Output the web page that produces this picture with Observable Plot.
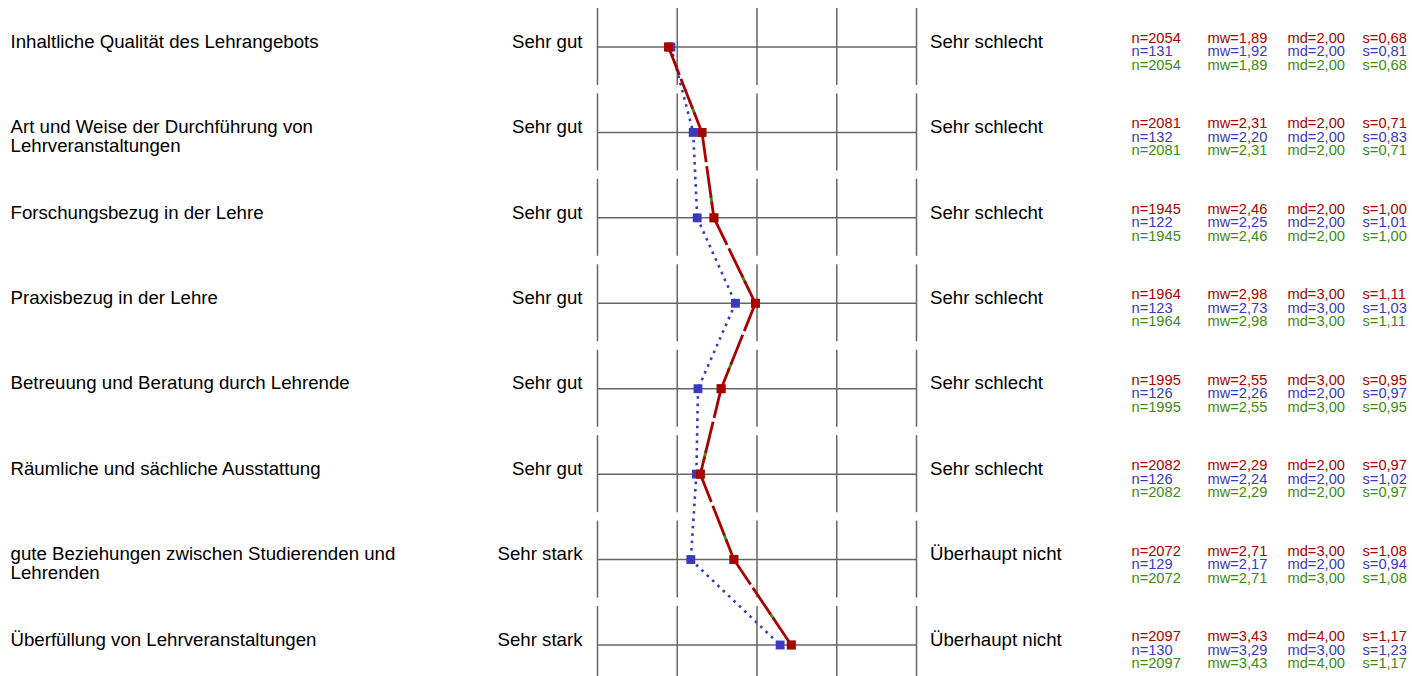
<!DOCTYPE html>
<html>
<head>
<meta charset="utf-8">
<script src="https://cdn.jsdelivr.net/npm/d3@7"></script>
<script src="https://cdn.jsdelivr.net/npm/@observablehq/plot@0.6"></script>
<style>
  html, body { margin: 0; padding: 0; background: #fff; }
  #chart svg { display: block; }
</style>
</head>
<body>
<div id="chart"></div>
<script>
// ---- data ----
const items = [
  "Inhaltliche Qualität des Lehrangebots",
  "Art und Weise der Durchführung von\nLehrveranstaltungen",
  "Forschungsbezug in der Lehre",
  "Praxisbezug in der Lehre",
  "Betreuung und Beratung durch Lehrende",
  "Räumliche und sächliche Ausstattung",
  "gute Beziehungen zwischen Studierenden und\nLehrenden",
  "Überfüllung von Lehrveranstaltungen"
];
const leftPoles  = ["Sehr gut","Sehr gut","Sehr gut","Sehr gut","Sehr gut","Sehr gut","Sehr stark","Sehr stark"];
const rightPoles = ["Sehr schlecht","Sehr schlecht","Sehr schlecht","Sehr schlecht","Sehr schlecht","Sehr schlecht","Überhaupt nicht","Überhaupt nicht"];
const scaleTicks = [1, 2, 3, 4, 5];

const redN   = [2054, 2081, 1945, 1964, 1995, 2082, 2072, 2097];
const redMw  = [1.89, 2.31, 2.46, 2.98, 2.55, 2.29, 2.71, 3.43];
const redMd  = [2.00, 2.00, 2.00, 3.00, 3.00, 2.00, 3.00, 4.00];
const redS   = [0.68, 0.71, 1.00, 1.11, 0.95, 0.97, 1.08, 1.17];

const blueN  = [131, 132, 122, 123, 126, 126, 129, 130];
const blueMw = [1.92, 2.20, 2.25, 2.73, 2.26, 2.24, 2.17, 3.29];
const blueMd = [2.00, 2.00, 2.00, 3.00, 2.00, 2.00, 2.00, 3.00];
const blueS  = [0.81, 0.83, 1.01, 1.03, 0.97, 1.02, 0.94, 1.23];

const greenN  = [2054, 2081, 1945, 1964, 1995, 2082, 2072, 2097];
const greenMw = [1.89, 2.31, 2.46, 2.98, 2.55, 2.29, 2.71, 3.43];
const greenMd = [2.00, 2.00, 2.00, 3.00, 3.00, 2.00, 3.00, 4.00];
const greenS  = [0.68, 0.71, 1.00, 1.11, 0.95, 0.97, 1.08, 1.17];

// ---- styling / layout ----
const RED = "#aa0000", BLUE = "#3a3ac0", GREEN = "#3c8c14", GRID = "#666";
const FONT = "'Liberation Sans', Arial, Helvetica, sans-serif";
const rowIdx = d3.range(items.length);

const series = [
  {name: "green", color: GREEN, n: greenN, mw: greenMw, md: greenMd, s: greenS, dy: 23},
  {name: "blue",  color: BLUE,  n: blueN,  mw: blueMw,  md: blueMd,  s: blueS,  dy: 9.5},
  {name: "red",   color: RED,   n: redN,   mw: redMw,   md: redMd,   s: redS,   dy: -4}
];

const dec = v => d3.format(".2f")(v).replace(".", ",");
const cols = [
  {dx: 1131, f: (S, i) => "n=" + S.n[i]},
  {dx: 1207, f: (S, i) => "mw=" + dec(S.mw[i])},
  {dx: 1287, f: (S, i) => "md=" + dec(S.md[i])},
  {dx: 1362, f: (S, i) => "s=" + dec(S.s[i])}
];

const grid = [];
for (const r of rowIdx) for (const t of scaleTicks) grid.push({row: r, v: t});

const segs = S => d3.range(items.length - 1).map(i => ({x1: S.mw[i], x2: S.mw[i + 1], y1: i, y2: i + 1}));

const labelOpts = {lineAnchor: "top", dy: -12.5, lineHeight: 1.0, fontSize: 18.67, fill: "#000"};

const marks = [
  // grid
  Plot.tickX(grid, {x: "v", y: "row", stroke: GRID, strokeWidth: 1.5}),
  Plot.ruleY(rowIdx, {y: d => d, x1: 1, x2: 5, stroke: GRID, strokeWidth: 1.5}),
  // item labels
  Plot.text(rowIdx, {y: d => d, text: d => items[d], frameAnchor: "left", dx: 10, textAnchor: "start", ...labelOpts}),
  Plot.text(rowIdx, {y: d => d, x: () => 1, text: d => leftPoles[d], textAnchor: "end", ...labelOpts, dx: -15}),
  Plot.text(rowIdx, {y: d => d, x: () => 5, text: d => rightPoles[d], textAnchor: "start", ...labelOpts, dx: 13.5})
];

// profile lines
const G = series[0], B = series[1], R = series[2];
marks.push(
  Plot.link(segs(G), {x1: "x1", x2: "x2", y1: "y1", y2: "y2", stroke: GREEN, strokeWidth: 2.8, strokeDasharray: "0,64,9,500"}),
  Plot.dot(rowIdx, {x: i => G.mw[i], y: d => d, symbol: "square", r: 5, fill: GREEN}),
  Plot.link(segs(B), {x1: "x1", x2: "x2", y1: "y1", y2: "y2", stroke: BLUE, strokeWidth: 2.6, strokeDasharray: "2.6,4.8"}),
  Plot.dot(rowIdx, {x: i => B.mw[i], y: d => d, symbol: "square", r: 5, fill: BLUE}),
  Plot.link(segs(R), {x1: "x1", x2: "x2", y1: "y1", y2: "y2", stroke: RED, strokeWidth: 2.8, strokeDasharray: "30,4,32,4,400,0"}),
  Plot.dot(rowIdx, {x: i => R.mw[i], y: d => d, symbol: "square", r: 5, fill: RED})
);

// statistics
for (const S of [R, B, G]) {
  for (const c of cols) {
    marks.push(Plot.text(rowIdx, {y: d => d, text: i => c.f(S, i), frameAnchor: "left", dx: c.dx,
      textAnchor: "start", lineAnchor: "bottom", dy: S.dy, fontSize: 14.67, fill: S.color}));
  }
}

const chart = Plot.plot({
  width: 1412,
  height: 676,
  marginLeft: 0, marginRight: 0, marginTop: 0, marginBottom: 0,
  style: {fontFamily: FONT, background: "#fff", overflow: "hidden"},
  x: {type: "linear", domain: [1, 5], range: [597, 916], axis: null},
  y: {type: "band", domain: rowIdx, range: [8, 683], paddingInner: 0.0987, paddingOuter: 0, round: false, axis: null},
  marks
});
document.getElementById("chart").appendChild(chart);
</script>
</body>
</html>
